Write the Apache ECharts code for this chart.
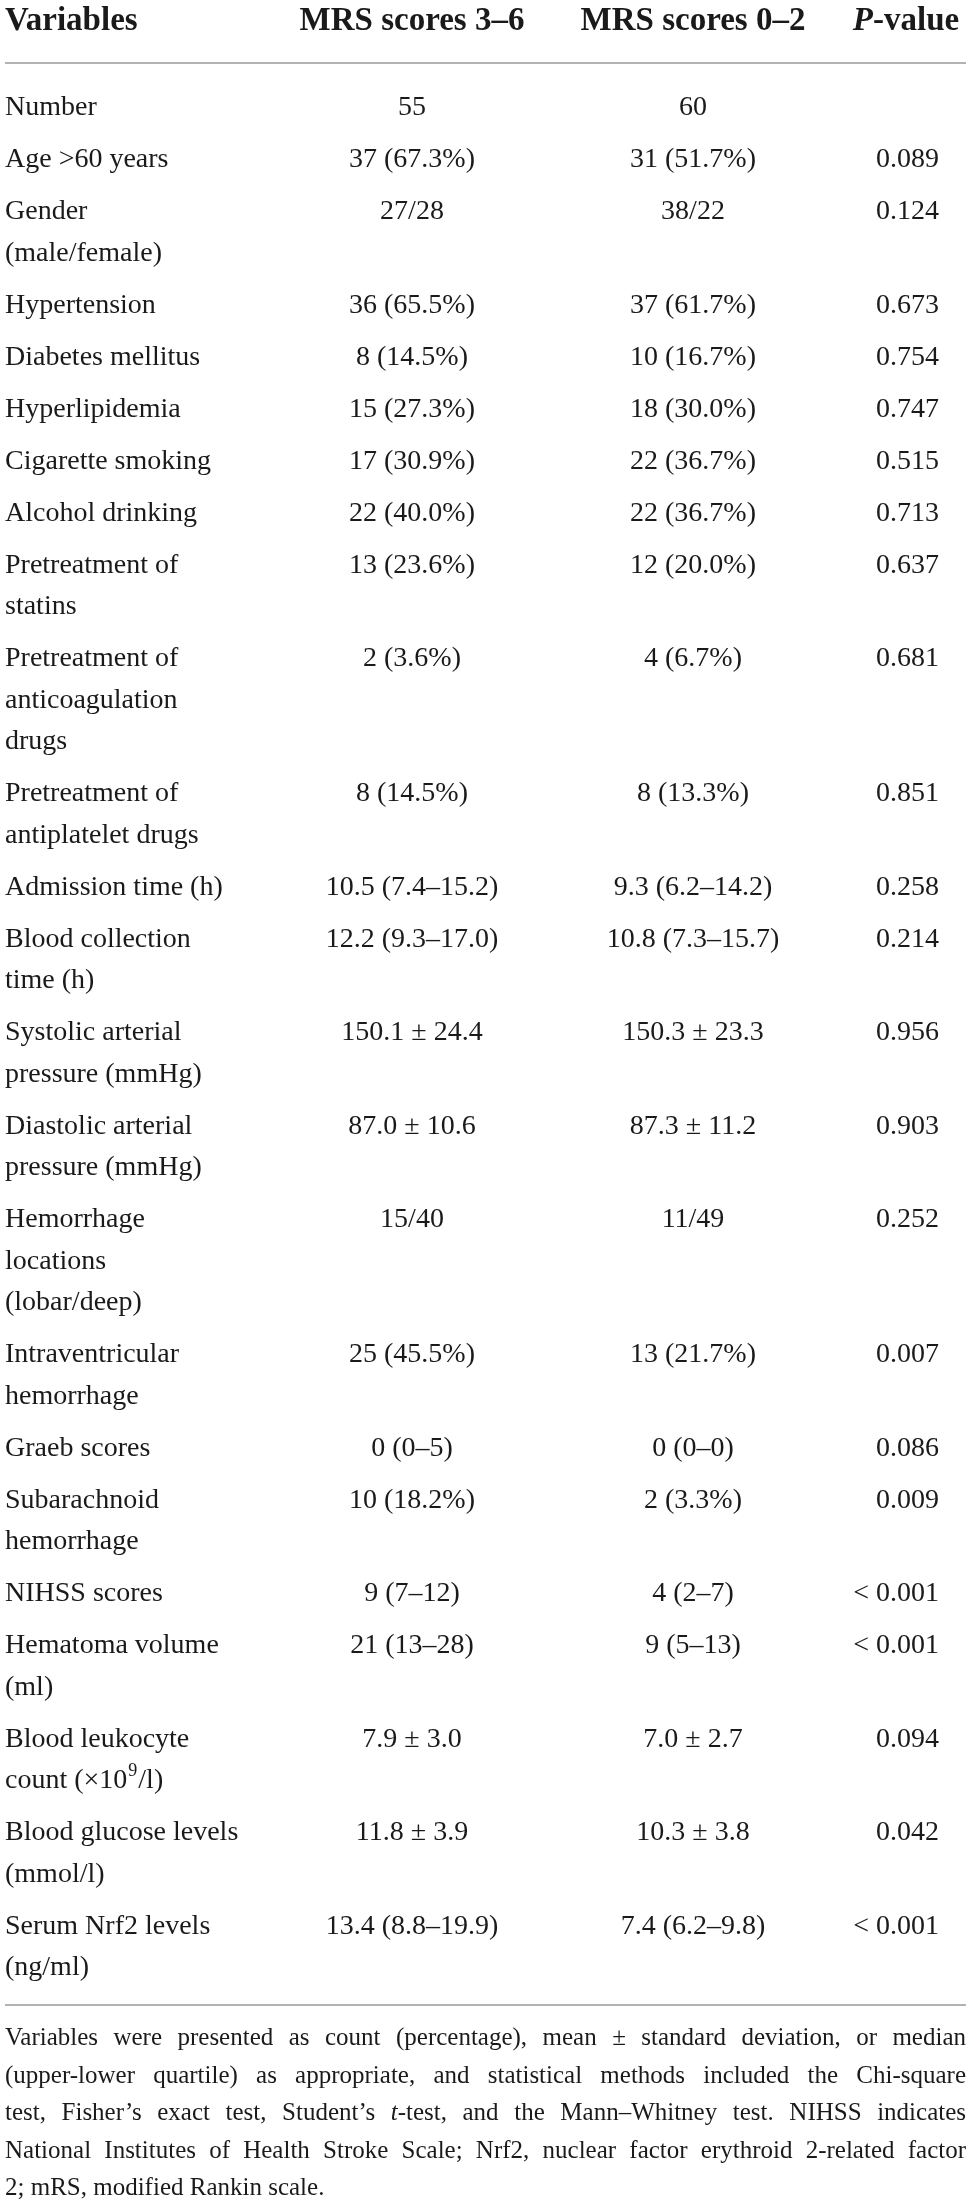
<!DOCTYPE html>
<html lang="en">

<head>
    <meta charset="UTF-8">
    <title>MRS table</title>
    <script src="https://cdn.jsdelivr.net/npm/echarts@6.0.0/dist/echarts.min.js"></script>
    <style>
        body { margin: 0; background: #fff; }
    </style>
</head>

<body>
    <div id="main" style="width: 971px;height:2205px;"></div>
    <script type="text/javascript">
        // table content
        const headers = ['Variables', 'MRS scores 3–6', 'MRS scores 0–2', '{pi|P}-value'];

        const variables = [
            'Number', 'Age >60 years', 'Gender\n(male/female)', 'Hypertension', 'Diabetes mellitus',
            'Hyperlipidemia', 'Cigarette smoking', 'Alcohol drinking', 'Pretreatment of\nstatins',
            'Pretreatment of\nanticoagulation\ndrugs', 'Pretreatment of\nantiplatelet drugs',
            'Admission time (h)', 'Blood collection\ntime (h)', 'Systolic arterial\npressure (mmHg)',
            'Diastolic arterial\npressure (mmHg)', 'Hemorrhage\nlocations\n(lobar/deep)',
            'Intraventricular\nhemorrhage', 'Graeb scores', 'Subarachnoid\nhemorrhage', 'NIHSS scores',
            'Hematoma volume\n(ml)', 'Blood leukocyte\ncount (×10{sup|9}/l)', 'Blood glucose levels\n(mmol/l)',
            'Serum Nrf2 levels\n(ng/ml)'
        ];

        const mrs36 = [
            '55', '37 (67.3%)', '27/28', '36 (65.5%)', '8 (14.5%)', '15 (27.3%)', '17 (30.9%)', '22 (40.0%)',
            '13 (23.6%)', '2 (3.6%)', '8 (14.5%)', '10.5 (7.4–15.2)', '12.2 (9.3–17.0)', '150.1 ± 24.4',
            '87.0 ± 10.6', '15/40', '25 (45.5%)', '0 (0–5)', '10 (18.2%)', '9 (7–12)', '21 (13–28)',
            '7.9 ± 3.0', '11.8 ± 3.9', '13.4 (8.8–19.9)'
        ];

        const mrs02 = [
            '60', '31 (51.7%)', '38/22', '37 (61.7%)', '10 (16.7%)', '18 (30.0%)', '22 (36.7%)', '22 (36.7%)',
            '12 (20.0%)', '4 (6.7%)', '8 (13.3%)', '9.3 (6.2–14.2)', '10.8 (7.3–15.7)', '150.3 ± 23.3',
            '87.3 ± 11.2', '11/49', '13 (21.7%)', '0 (0–0)', '2 (3.3%)', '4 (2–7)', '9 (5–13)',
            '7.0 ± 2.7', '10.3 ± 3.8', '7.4 (6.2–9.8)'
        ];

        const pValues = [
            '', '0.089', '0.124', '0.673', '0.754', '0.747', '0.515', '0.713', '0.637', '0.681', '0.851',
            '0.258', '0.214', '0.956', '0.903', '0.252', '0.007', '0.086', '0.009', '< 0.001', '< 0.001',
            '0.094', '0.042', '< 0.001'
        ];

        const footnote = [
            'Variables were presented as count (percentage), mean ± standard deviation, or median',
            '(upper-lower quartile) as appropriate, and statistical methods included the Chi-square',
            'test, Fisher’s exact test, Student’s {i|t}-test, and the Mann–Whitney test. NIHSS indicates',
            'National Institutes of Health Stroke Scale; Nrf2, nuclear factor erythroid 2-related factor',
            '2; mRS, modified Rankin scale.'
        ];

        // layout
        const FONT = '"Liberation Serif", "Times New Roman", serif';
        const INK = '#1a1a1a';
        const bodySize = 28;
        const lineH = 41.5;
        const rowGap = 10.5;
        const firstTop = 108 - lineH / 2;
        const colX = [5, 412, 693, 939];
        const left = 5, right = 966;

        // where each row starts, counted in text lines
        const rowLines = variables.map(v => v.split('\n').length);
        let acc = 0;
        const rowStart = rowLines.map(n => {
            const s = acc;
            acc += n + rowGap / lineH;
            return s;
        });
        const totalUnits = acc;

        const rowData = variables.map((v, i) => [i, rowStart[i]]);

        function cellText(x, y, text, align, rich) {
            return {
                type: 'text',
                x: x,
                y: y,
                style: {
                    text: text,
                    fontFamily: FONT,
                    fontSize: bodySize,
                    fill: INK,
                    align: align,
                    verticalAlign: 'top',
                    lineHeight: lineH,
                    rich: rich
                }
            };
        }

        function renderRow(params, api) {
            const i = api.value(0);
            const y = api.coord([0, api.value(1)])[1];
            const xs = colX.map(cx => api.coord([cx, 0])[0]);
            return {
                type: 'group',
                children: [
                    cellText(xs[0], y, variables[i], 'left', {
                        sup: { fontFamily: FONT, fontSize: 18, fill: INK, padding: [0, 1, 20, 1], lineHeight: lineH }
                    }),
                    cellText(xs[1], y, mrs36[i], 'center'),
                    cellText(xs[2], y, mrs02[i], 'center'),
                    cellText(xs[3], y, pValues[i], 'right')
                ]
            };
        }

        // footnote words justified across the table width
        const ctx = document.createElement('canvas').getContext('2d');
        const noteSize = 25;
        function measure(word) {
            let w = 0;
            word.split(/(\{i\|[^}]*\})/).forEach(part => {
                if (!part) return;
                const m = part.match(/^\{i\|([^}]*)\}$/);
                ctx.font = (m ? 'italic ' : '') + noteSize + 'px ' + FONT;
                w += ctx.measureText(m ? m[1] : part).width;
            });
            return w;
        }

        const noteEls = [];
        footnote.forEach((line, li) => {
            const words = line.split(' ');
            const widths = words.map(measure);
            const sum = widths.reduce((a, b) => a + b, 0);
            const last = li === footnote.length - 1;
            const gap = last ? ctx.measureText(' ').width : (right - left - sum) / (words.length - 1);
            let x = left;
            const y = 2047 - 0.337 * noteSize + li * 37.5;
            words.forEach((w, wi) => {
                noteEls.push({
                    type: 'text',
                    x: x,
                    y: y,
                    style: {
                        text: w,
                        fontFamily: FONT,
                        fontSize: noteSize,
                        fill: INK,
                        align: 'left',
                        verticalAlign: 'middle',
                        rich: { i: { fontFamily: FONT, fontSize: noteSize, fontStyle: 'italic', fill: INK } }
                    }
                });
                x += widths[wi] + gap;
            });
        });

        const headSize = 33;
        const headY = 33 - 0.337 * headSize;
        const headX = [5, 412, 693, 906];
        const headAlign = ['left', 'center', 'center', 'center'];
        const headEls = headers.map((h, i) => ({
            type: 'text',
            x: headX[i],
            y: headY,
            style: {
                text: h,
                fontFamily: FONT,
                fontSize: headSize,
                fontWeight: 'bold',
                fill: INK,
                align: headAlign[i],
                verticalAlign: 'middle',
                rich: { pi: { fontFamily: FONT, fontSize: headSize, fontWeight: 'bold', fontStyle: 'italic', fill: INK } }
            }
        }));

        const rules = [63, 2005].map(y => ({
            type: 'line',
            shape: { x1: left, y1: y, x2: right, y2: y },
            style: { stroke: '#9a9a9a', lineWidth: 1.5 }
        }));

        let options = {
            backgroundColor: '#fff',
            animation: false,
            grid: { left: 0, right: 0, top: firstTop, height: totalUnits * lineH },
            xAxis: { type: 'value', min: 0, max: 971, show: false },
            yAxis: { type: 'value', min: 0, max: totalUnits, inverse: true, show: false },
            graphic: { elements: headEls.concat(rules, noteEls) },
            series: [{
                type: 'custom',
                renderItem: renderRow,
                data: rowData,
                silent: true
            }]
        };

        let myChart = echarts.init(document.getElementById('main'));
        myChart.setOption(options);
    </script>
</body>

</html>
